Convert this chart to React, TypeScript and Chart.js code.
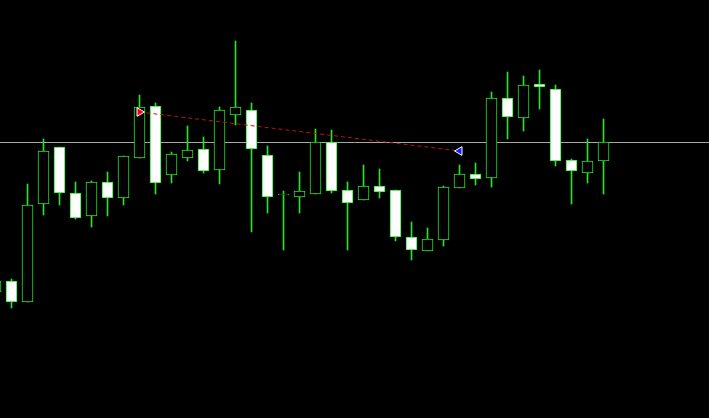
import React, { useEffect, useRef } from "react";
import { Chart, registerables } from "chart.js";

Chart.register(...registerables);

// OHLC series (price values)
const opens = [1.3126, 1.3137, 1.3116, 1.3214, 1.3271, 1.3225, 1.3202, 1.3236, 1.3220, 1.3260,
  1.3312, 1.3243, 1.3260, 1.3269, 1.3248, 1.3303, 1.3308, 1.3263, 1.3223, 1.3221,
  1.3224, 1.3276, 1.3228, 1.3218, 1.3232, 1.3228, 1.3181, 1.3167, 1.3178, 1.3230,
  1.3244, 1.3240, 1.3320, 1.3300, 1.3334, 1.3329, 1.3258, 1.3245, 1.3257];
const highs = [1.3142, 1.3139, 1.3234, 1.3279, 1.3271, 1.3236, 1.3237, 1.3246, 1.3262, 1.3323,
  1.3315, 1.3266, 1.3292, 1.3281, 1.3311, 1.3377, 1.3315, 1.3272, 1.3227, 1.3246,
  1.3289, 1.3288, 1.3236, 1.3253, 1.3249, 1.3228, 1.3196, 1.3190, 1.3232, 1.3253,
  1.3255, 1.3326, 1.3346, 1.3342, 1.3348, 1.3333, 1.3259, 1.3279, 1.3299];
const lows = [1.3118, 1.3110, 1.3116, 1.3203, 1.3213, 1.3199, 1.3191, 1.3202, 1.3213, 1.3260,
  1.3224, 1.3235, 1.3257, 1.3245, 1.3234, 1.3293, 1.3186, 1.3205, 1.3168, 1.3205,
  1.3224, 1.3225, 1.3168, 1.3218, 1.3220, 1.3177, 1.3158, 1.3167, 1.3172, 1.3230,
  1.3233, 1.3231, 1.3279, 1.3287, 1.3309, 1.3252, 1.3214, 1.3235, 1.3224];
const closes = [1.3137, 1.3116, 1.3213, 1.3267, 1.3225, 1.3200, 1.3236, 1.3220, 1.3262, 1.3311,
  1.3235, 1.3264, 1.3268, 1.3247, 1.3308, 1.3311, 1.3269, 1.3221, 1.3223, 1.3227,
  1.3276, 1.3227, 1.3215, 1.3232, 1.3226, 1.3181, 1.3168, 1.3179, 1.3231, 1.3244,
  1.3239, 1.3320, 1.3301, 1.3333, 1.3331, 1.3257, 1.3247, 1.3257, 1.3276];

// Trade line: open bar index/price, close bar index/price
const tradeBars = [9, 29];
const tradePrices = [1.3306, 1.3267];

const GREEN = "#2ee02e";

export default function App() {
  const ref = useRef<HTMLCanvasElement | null>(null);

  useEffect(() => {
    if (!ref.current) return;
    const idx = opens.map((_, i) => i);
    const wickData = idx.map((i) => ({ x: i, y: [lows[i], highs[i]] }));
    const bodyData = idx.map((i) => ({
      x: i,
      y: [Math.min(opens[i], closes[i]), Math.max(opens[i], closes[i])],
    }));
    const bodyFill = idx.map((i) => (closes[i] < opens[i] ? "#ffffff" : "#000000"));

    const priceLine = {
      id: "priceLine",
      beforeDatasetsDraw(chart: any) {
        const { ctx, scales } = chart;
        const y = Math.round(scales.y.getPixelForValue(closes[closes.length - 1])) + 0.5;
        ctx.save();
        ctx.strokeStyle = "#a8a8a8";
        ctx.lineWidth = 1;
        ctx.beginPath();
        ctx.moveTo(0, y);
        ctx.lineTo(chart.width, y);
        ctx.stroke();
        ctx.restore();
      },
    };

    const chart = new Chart(ref.current, {
      type: "bar",
      data: {
        datasets: [
          {
            type: "line",
            data: tradeBars.map((b, k) => ({ x: b, y: tradePrices[k] })),
            borderColor: "#b81414",
            borderWidth: 1,
            borderDash: [4, 3],
            pointStyle: "triangle",
            pointRadius: 5,
            pointRotation: [90, -90],
            pointBackgroundColor: ["#ff0000", "#1a1aff"],
            pointBorderColor: ["#ffffff", "#ffffff"],
            pointBorderWidth: 1,
            clip: false,
            order: 0,
          } as any,
          {
            data: bodyData as any,
            backgroundColor: bodyFill,
            borderColor: GREEN,
            borderWidth: 1,
            borderSkipped: false,
            barThickness: 11,
            minBarLength: 1,
            grouped: false,
            order: 1,
          } as any,
          {
            data: wickData as any,
            backgroundColor: GREEN,
            borderWidth: 0,
            barThickness: 1,
            grouped: false,
            order: 2,
          } as any,
        ],
      },
      options: {
        responsive: false,
        maintainAspectRatio: false,
        animation: false,
        layout: { padding: 0, autoPadding: false },
        plugins: { legend: { display: false }, tooltip: { enabled: false } },
        scales: {
          x: { type: "linear", display: false, offset: false, min: 0.28125, max: 44.59375 },
          y: { display: false, min: 1.3, max: 1.3418 },
        },
      },
      plugins: [priceLine],
    });
    return () => chart.destroy();
  }, []);

  return (
    <div style={{ position: "fixed", left: 0, top: 0, width: 709, height: 418, background: "#000" }}>
      <canvas ref={ref} width={709} height={418} style={{ display: "block" }} />
    </div>
  );
}
